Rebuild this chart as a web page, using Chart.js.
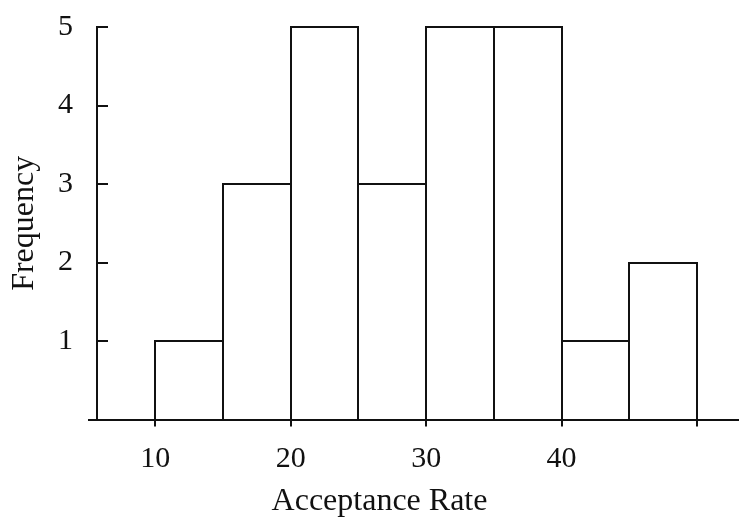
<!DOCTYPE html>
<html><head><meta charset="utf-8">
<script src="https://cdn.jsdelivr.net/npm/chart.js@4.4.0/dist/chart.umd.min.js"></script>
<style>html,body{margin:0;padding:0;background:#fff;}canvas{display:block;}</style>
</head><body>
<canvas id="c" width="739" height="522"></canvas>
<script>
const binStarts = [10, 15, 20, 25, 30, 35, 40, 45];
const binWidth = 5;
const frequencies = [1, 3, 5, 3, 5, 5, 1, 2];
const xTickValues = [10, 20, 30, 40, 50];
const xTickLabels = ['10', '20', '30', '40', ''];
const yTickValues = [1, 2, 3, 4, 5];
const xAxisTitle = 'Acceptance Rate';
const yAxisTitle = 'Frequency';

const INK = '#111';
const FONT = "'Liberation Serif', 'Times New Roman', serif";

const points = binStarts.map((s, i) => ({ x: s + binWidth / 2, y: frequencies[i] }));

const drawPlugin = {
  id: 'histDraw',
  afterDatasetsDraw(chart) {
    const ctx = chart.ctx;
    const meta = chart.getDatasetMeta(0);
    ctx.save();
    ctx.strokeStyle = INK;
    ctx.lineWidth = 2;
    ctx.lineCap = 'square';
    meta.data.forEach(bar => {
      const p = bar.getProps(['x', 'y', 'base', 'width'], true);
      const l = Math.round(p.x - p.width / 2), r = Math.round(p.x + p.width / 2);
      const t = Math.round(p.y), b = Math.round(p.base);
      ctx.beginPath();
      ctx.moveTo(l, b); ctx.lineTo(l, t); ctx.lineTo(r, t); ctx.lineTo(r, b);
      ctx.stroke();
    });
    // axes
    const ys = chart.scales.y;
    const y0 = Math.round(ys.getPixelForValue(0));
    const yTop = Math.round(ys.getPixelForValue(5)) - 1;
    const xL = Math.round(chart.chartArea.left);
    ctx.lineCap = 'butt';
    ctx.beginPath();
    ctx.moveTo(xL, yTop); ctx.lineTo(xL, y0);
    ctx.moveTo(xL - 9, y0); ctx.lineTo(chart.width, y0);
    ctx.stroke();
    // inward y tick marks
    yTickValues.forEach(v => {
      const py = Math.round(ys.getPixelForValue(v));
      ctx.beginPath();
      ctx.moveTo(xL, py); ctx.lineTo(xL + 11, py);
      ctx.stroke();
    });
    ctx.restore();
  }
};

new Chart(document.getElementById('c'), {
  type: 'bar',
  data: {
    datasets: [{
      data: points,
      backgroundColor: 'rgba(0,0,0,0)',
      borderWidth: 0,
      barPercentage: 1,
      categoryPercentage: 1
    }]
  },
  options: {
    responsive: false,
    animation: false,
    events: [],
    layout: { padding: { left: 20, right: 0, top: 27, bottom: 0 } },
    plugins: {
      legend: { display: false },
      tooltip: { enabled: false },
      title: {
        display: true,
        position: 'bottom',
        text: xAxisTitle,
        color: INK,
        font: { family: FONT, size: 32, weight: 'normal' },
        padding: { top: 13, bottom: 1 }
      }
    },
    scales: {
      x: {
        type: 'linear',
        min: 5.7,
        max: 53.1,
        offset: false,
        afterBuildTicks: s => { s.ticks = xTickValues.map(v => ({ value: v })); },
        afterFit: s => { s.height = 50; s.paddingLeft = 0; s.paddingRight = 0; },
        ticks: {
          autoSkip: false,
          maxRotation: 0,
          padding: 15,
          color: INK,
          font: { family: FONT, size: 30 },
          callback: (v) => { const i = xTickValues.indexOf(v); return i >= 0 ? xTickLabels[i] : ''; }
        },
        grid: { display: true, offset: false, drawOnChartArea: false, drawTicks: true, tickLength: 7, color: INK, lineWidth: 2 },
        border: { display: false }
      },
      y: {
        min: 0,
        max: 5,
        afterBuildTicks: s => { s.ticks = [0].concat(yTickValues).map(v => ({ value: v })); },
        afterFit: s => { s.width = 77; s.paddingTop = 0; s.paddingBottom = 0; },
        ticks: {
          padding: 16,
          color: INK,
          font: { family: FONT, size: 30 },
          callback: v => (v === 0 ? '' : String(v))
        },
        grid: { display: false },
        border: { display: false },
        title: {
          display: true,
          text: yAxisTitle,
          color: INK,
          font: { family: FONT, size: 32, weight: 'normal' },
          padding: { top: -15, bottom: 0 }
        }
      }
    }
  },
  plugins: [drawPlugin]
});
</script>
</body></html>
